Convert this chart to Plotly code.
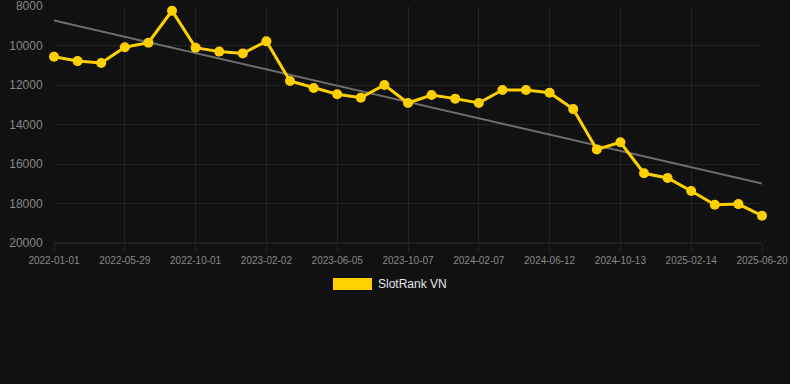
import numpy as np
import plotly.graph_objects as go

dates = [
    "2022-01-01", "2022-02-19", "2022-04-09", "2022-05-29", "2022-07-10", "2022-08-20",
    "2022-10-01", "2022-11-11", "2022-12-22", "2023-02-02", "2023-03-16", "2023-04-25",
    "2023-06-05", "2023-07-16", "2023-08-26", "2023-10-07", "2023-11-17", "2023-12-28",
    "2024-02-07", "2024-03-19", "2024-05-01", "2024-06-12", "2024-07-23", "2024-09-02",
    "2024-10-13", "2024-11-23", "2025-01-03", "2025-02-14", "2025-03-27", "2025-05-09",
    "2025-06-20",
]
ranks = [
    10570, 10790, 10890, 10090, 9860, 8240,
    10110, 10310, 10400, 9790, 11800, 12150,
    12470, 12640, 12000, 12910, 12510, 12690,
    12910, 12250, 12250, 12390, 13220, 15260,
    14900, 16470, 16710, 17370, 18060, 18030,
    18620,
]
series_name = "SlotRank VN"
y_ticks = [8000, 10000, 12000, 14000, 16000, 18000, 20000]
y_tick_text = [str(v) for v in y_ticks]
label_dates = dates[::3]

idx = np.arange(len(ranks))
slope, intercept = np.polyfit(idx, ranks, 1)
trend = [intercept + slope * i for i in (0, len(ranks) - 1)]

BG = "#111111"
GRID = "#232323"
GOLD = "#FFD000"

fig = go.Figure()
fig.add_trace(go.Scatter(
    x=[dates[0], dates[-1]], y=trend, mode="lines",
    line=dict(color="#6e6e6e", width=2), showlegend=False, hoverinfo="skip",
    cliponaxis=False,
))
fig.add_trace(go.Scatter(
    x=dates, y=ranks, mode="lines+markers", name=series_name,
    line=dict(color=GOLD, width=3), marker=dict(color=GOLD, size=10),
    showlegend=False, cliponaxis=False,
))

W, H = 790, 384
L, R, T, B = 54, 28, 6, 141
pw, ph = W - L - R, H - T - B

def px_x(p):
    return (p - L) / pw

def px_y(p):
    return (H - B - p) / ph

fig.add_shape(type="rect", xref="paper", yref="paper",
              x0=px_x(333), x1=px_x(372), y0=px_y(290), y1=px_y(278),
              fillcolor=GOLD, line=dict(width=0))
fig.add_annotation(xref="paper", yref="paper", x=px_x(376), y=px_y(284),
                   text=series_name, showarrow=False, xanchor="left", yanchor="middle",
                   font=dict(size=12, color="#e6e6e6"))

fig.update_layout(
    width=W, height=H,
    margin=dict(l=L, r=R, t=T, b=B),
    paper_bgcolor=BG, plot_bgcolor=BG,
    font=dict(family="Liberation Sans, Arial, sans-serif", color="#888888"),
    showlegend=False,
    xaxis=dict(
        type="category", categoryorder="array", categoryarray=dates,
        range=[0, len(dates) - 1],
        tickmode="array", tickvals=label_dates, ticktext=label_dates,
        tickfont=dict(size=10, color="#888888"),
        showgrid=True, gridcolor=GRID, gridwidth=1,
        ticks="outside", ticklen=8, tickcolor=GRID,
        showline=False, zeroline=False, ticklabeloverflow="allow",
        automargin=False,
    ),
    yaxis=dict(
        range=[20000, 8000], tickmode="array", tickvals=y_ticks, ticktext=y_tick_text,
        tickfont=dict(size=12, color="#888888"),
        showgrid=True, gridcolor=GRID, gridwidth=1,
        ticks="outside", ticklen=8, tickcolor=BG,
        showline=False, zeroline=False, ticklabeloverflow="allow",
        automargin=False,
    ),
)
fig.add_shape(type="line", xref="paper", yref="paper", x0=0, x1=1, y0=0, y1=0,
              line=dict(color="#2e2e2e", width=1), layer="below")

fig.write_html("out.html", config={"displayModeBar": False},
               post_script="document.body.style.margin='0';")
